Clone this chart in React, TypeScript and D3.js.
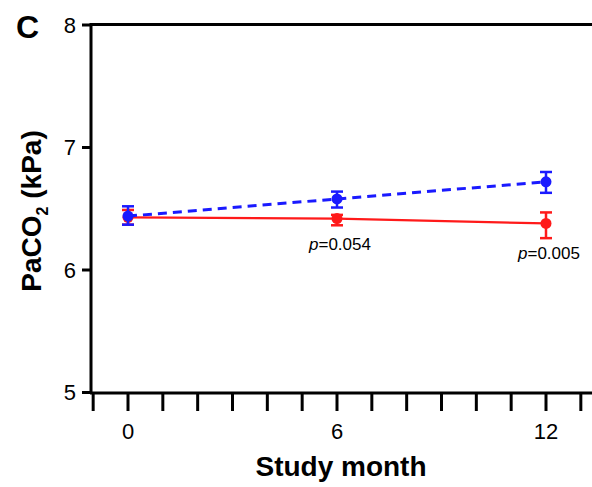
import React from "react";
import * as d3 from "d3";

const months = [0, 6, 12];
const blueMean = [6.44, 6.58, 6.72];
const blueLo = [6.37, 6.51, 6.63];
const blueHi = [6.52, 6.64, 6.8];
const redMean = [6.43, 6.42, 6.38];
const redLo = [6.37, 6.365, 6.26];
const redHi = [6.49, 6.45, 6.47];
const pLabels = [
  { month: 6, text: "=0.054" },
  { month: 12, text: "=0.005" },
];
const yTicks = [5, 6, 7, 8];
const xTickLabels = [0, 6, 12];
const xMinorTicks = d3.range(-1, 14);

export default function App() {
  const W = 592, H = 487;
  const x = d3.scaleLinear().domain([0, 12]).range([128, 546]);
  const y = d3.scaleLinear().domain([5, 8]).range([392.5, 25]);
  const font = "'Liberation Sans', Arial, sans-serif";
  const line = d3.line<number>().x((_, i) => x(months[i])).y((d) => y(d));

  const series = [
    { mean: redMean, lo: redLo, hi: redHi, color: "#ff1a1a", dash: undefined, w: 2.2 },
    { mean: blueMean, lo: blueLo, hi: blueHi, color: "#1a1aff", dash: "9,6", w: 3 },
  ];

  return (
    <svg width={W} height={H} style={{ position: "absolute", left: 0, top: 0 }} fontFamily={font}>
      <rect width={W} height={H} fill="#fff" />
      <text x={16} y={38} fontSize={32} fontWeight="bold">C</text>
      {/* frame */}
      <line x1={91} x2={W} y1={24.5} y2={24.5} stroke="#000" strokeWidth={3} />
      <line x1={91} x2={91} y1={23} y2={394} stroke="#000" strokeWidth={3} />
      <line x1={90} x2={W} y1={393} y2={393} stroke="#000" strokeWidth={3} />
      {yTicks.map((t) => (
        <g key={t}>
          <line x1={82} x2={91} y1={y(t)} y2={y(t)} stroke="#000" strokeWidth={3} />
          <text x={76} y={y(t)} dy="0.36em" textAnchor="end" fontSize={22}>{t}</text>
        </g>
      ))}
      {xMinorTicks.map((t) => (
        <line key={t} x1={x(t)} x2={x(t)} y1={393} y2={411} stroke="#000" strokeWidth={3} />
      ))}
      {xTickLabels.map((t) => (
        <text key={t} x={x(t)} y={439} textAnchor="middle" fontSize={22}>{t}</text>
      ))}
      <text x={341} y={476} textAnchor="middle" fontSize={28} fontWeight="bold">Study month</text>
      <text transform="translate(41,211) rotate(-90)" textAnchor="middle" fontSize={28} fontWeight="bold">
        PaCO<tspan fontSize={16} dy={7}>2</tspan><tspan dy={-7}> (kPa)</tspan>
      </text>
      {series.map((s, k) => (
        <g key={k}>
          <path d={line(s.mean) || ""} fill="none" stroke={s.color} strokeWidth={s.w} strokeDasharray={s.dash} />
          {months.map((m, i) => (
            <g key={m}>
              <line x1={x(m)} x2={x(m)} y1={y(s.lo[i])} y2={y(s.hi[i])} stroke={s.color} strokeWidth={2.5} />
              <line x1={x(m) - 6} x2={x(m) + 6} y1={y(s.lo[i])} y2={y(s.lo[i])} stroke={s.color} strokeWidth={2.5} />
              <line x1={x(m) - 6} x2={x(m) + 6} y1={y(s.hi[i])} y2={y(s.hi[i])} stroke={s.color} strokeWidth={2.5} />
              <circle cx={x(m)} cy={y(s.mean[i])} r={5.5} fill={s.color} />
            </g>
          ))}
        </g>
      ))}
      {pLabels.map((p) => (
        <text key={p.month} x={x(p.month) + 3} y={p.month === 6 ? 250 : 259} textAnchor="middle" fontSize={17}>
          <tspan fontStyle="italic">p</tspan>{p.text}
        </text>
      ))}
    </svg>
  );
}
